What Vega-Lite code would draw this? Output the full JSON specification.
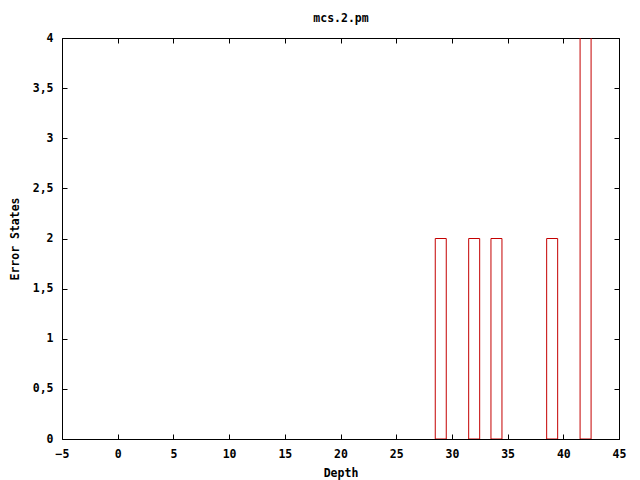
{
  "$schema": "https://vega.github.io/schema/vega-lite/v6.json",
  "autosize": {"type": "none"},
  "width": 557,
  "height": 401,
  "padding": {"left": 62, "top": 38, "right": 21, "bottom": 41},
  "background": "white",
  "config": {
    "view": {"stroke": null},
    "axis": {"grid": false, "domainColor": "black", "tickColor": "black", "labelColor": "black", "titleColor": "black", "labelFont": "DejaVu Sans Mono", "titleFont": "DejaVu Sans Mono", "labelFontSize": 11.5, "titleFontSize": 11.5, "labelFontWeight": "bold", "titleFontWeight": "bold", "tickSize": -5, "domainWidth": 1, "tickWidth": 1}
  },
  "data": {"values": [
    {"Depth": 29, "ErrorStates": 2},
    {"Depth": 32, "ErrorStates": 2},
    {"Depth": 34, "ErrorStates": 2},
    {"Depth": 39, "ErrorStates": 2},
    {"Depth": 42, "ErrorStates": 6}
  ]},
  "layer": [
    {
      "mark": {"type": "bar", "size": 11, "fill": null, "fillOpacity": 0, "stroke": "#c40000", "strokeWidth": 1, "clip": true},
      "encoding": {
        "x": {"field": "Depth", "type": "quantitative", "scale": {"domain": [-5, 45], "nice": false, "zero": false, "padding": 0},
          "axis": {"title": "Depth", "values": [-5,0,5,10,15,20,25,30,35,40,45], "labelPadding": 14, "titlePadding": 8, "labelFlush": false}},
        "y": {"field": "ErrorStates", "type": "quantitative", "scale": {"domain": [0, 4], "nice": false},
          "axis": {"title": "Error States", "values": [0,0.5,1,1.5,2,2.5,3,3.5,4], "labelPadding": 14, "titlePadding": 12, "labelFlush": false, "labelExpr": "replace(format(datum.value, '~g'), '.', ',')"}}
      }
    },
    {
      "mark": {"type": "rule", "opacity": 0},
      "encoding": {
        "x": {"field": "Depth", "type": "quantitative", "scale": {"domain": [-5, 45], "nice": false, "zero": false, "padding": 0},
          "axis": {"orient": "top", "title": "mcs.2.pm", "titlePadding": 14, "labels": false, "values": [-5,0,5,10,15,20,25,30,35,40,45]}},
        "y": {"field": "ErrorStates", "type": "quantitative", "scale": {"domain": [0, 4], "nice": false},
          "axis": {"orient": "right", "title": null, "labels": false, "values": [0,0.5,1,1.5,2,2.5,3,3.5,4]}}
      }
    }
  ],
  "resolve": {"axis": {"x": "independent", "y": "independent"}}
}
